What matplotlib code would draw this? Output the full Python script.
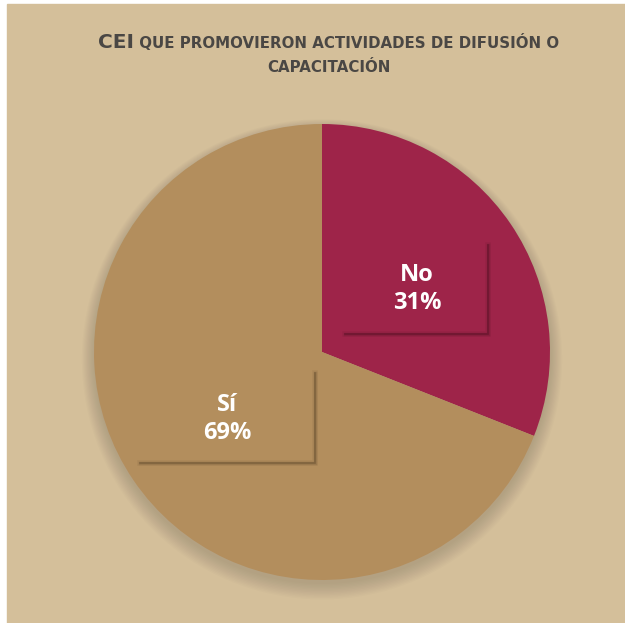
import matplotlib
matplotlib.use("Agg")
import matplotlib.pyplot as plt
from matplotlib.patches import Rectangle, Circle

# data
labels = ["No", "Sí"]
values = [31, 69]
colors = ["#9E2449", "#B38E5D"]
title_lead = "CEI"
title_rest = "QUE PROMOVIERON ACTIVIDADES DE DIFUSIÓN O"
title_line2 = "CAPACITACIÓN"

W, H = 625, 623
BG = "#D4BF9A"
TXT = "#4A4744"
FONT = "Open Sans"
TFONT = "DejaVu Sans"


def Y(y):
    # image row -> data y
    return H - y


fig = plt.figure(figsize=(W / 100, H / 100), dpi=100)
fig.patch.set_facecolor("white")
ax = fig.add_axes([0, 0, 1, 1])

ax.add_patch(Rectangle((7, 0), W - 7, Y(4), color=BG, zorder=0))

cx, cy, r = 322, Y(352), 228

# soft shadow under the pie
for i in range(12):
    ax.add_patch(Circle((cx, cy - 4 - i * 0.3), r + i * 1.1,
                        color="#7a7060", alpha=0.03, lw=0, zorder=1))

wedges, _ = ax.pie(values, colors=colors, startangle=90, counterclock=False,
                   center=(cx, cy), radius=r,
                   wedgeprops=dict(linewidth=0))
for w in wedges:
    w.set_zorder(2)

ax.set_xlim(0, W)
ax.set_ylim(0, H)
ax.set_aspect("equal")
ax.axis("off")

# label boxes: shadow on right and bottom edges
boxes = [(345, 488, 245, 334), (140, 315, 373, 463)]
box_shadow = ["#5e1429", "#6e5434"]
for (x0, x1, y0, y1), sc in zip(boxes, box_shadow):
    for lw, a in [(4, 0.12), (2.5, 0.25), (1.2, 0.6)]:
        ax.plot([x1, x1, x0], [Y(y0), Y(y1), Y(y1)], color=sc, lw=lw,
                alpha=a, solid_joinstyle="miter", zorder=3)

label_pos = [(417, 275, 303), (227, 405, 433)]
for lab, v, (x, y1, y2) in zip(labels, values, label_pos):
    ax.text(x, Y(y1), lab, ha="center", va="center", color="white",
            fontsize=17, fontweight="bold", family=FONT, zorder=4)
    ax.text(x, Y(y2), f"{v}%", ha="center", va="center", color="white",
            fontsize=17, fontweight="bold", family=FONT, zorder=4)

# title, first line built from two pieces and centred
t1 = ax.text(0, Y(48), title_lead, ha="left", va="baseline", color=TXT,
             fontsize=14.5, fontweight="bold", family=TFONT)
t2 = ax.text(0, Y(48), " " + title_rest, ha="left", va="baseline", color=TXT,
             fontsize=10.8, fontweight="bold", family=TFONT)
fig.canvas.draw()
rend = fig.canvas.get_renderer()
w1 = t1.get_window_extent(rend).width
w2 = t2.get_window_extent(rend).width
start = 329 - (w1 + w2) / 2
t1.set_x(start)
t2.set_x(start + w1)
ax.text(329, Y(72), title_line2, ha="center", va="baseline", color=TXT,
        fontsize=10.8, fontweight="bold", family=TFONT)

fig.savefig("out.png", dpi=100, facecolor=fig.get_facecolor())
